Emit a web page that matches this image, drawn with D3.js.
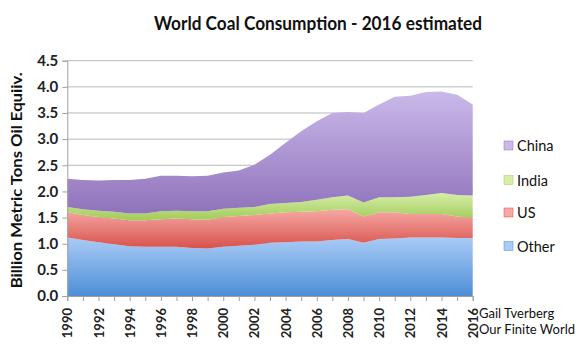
<!DOCTYPE html>
<html><head><meta charset="utf-8">
<script src="https://cdn.jsdelivr.net/npm/d3@7"></script>
<style>body{margin:0;background:#fff}svg{display:block}</style>
</head><body>
<script>
const years = d3.range(1990, 2017);
const other = [1.12,1.07,1.03,0.99,0.95,0.94,0.94,0.94,0.92,0.91,0.94,0.96,0.98,1.02,1.03,1.04,1.04,1.07,1.09,1.02,1.09,1.10,1.12,1.12,1.12,1.11,1.11];
const us    = [0.48,0.48,0.48,0.49,0.50,0.51,0.53,0.54,0.55,0.55,0.57,0.57,0.57,0.56,0.57,0.57,0.58,0.58,0.57,0.50,0.51,0.50,0.45,0.45,0.45,0.41,0.38];
const india = [0.10,0.11,0.12,0.13,0.13,0.13,0.15,0.15,0.15,0.16,0.16,0.16,0.15,0.18,0.18,0.19,0.22,0.24,0.26,0.27,0.29,0.29,0.33,0.36,0.40,0.41,0.43];
const china = [0.54,0.56,0.58,0.61,0.64,0.66,0.68,0.67,0.67,0.68,0.69,0.71,0.81,0.94,1.15,1.35,1.50,1.61,1.60,1.71,1.77,1.92,1.93,1.97,1.94,1.92,1.74];
const seriesNames = ["Other","US","India","China"];
const yTicks = [0,0.5,1,1.5,2,2.5,3,3.5,4,4.5];
const xTickLabels = d3.range(1990, 2017, 2);

const W = 578, H = 348;
const m = {left:67.3, right:578-472.7, top:60.7, bottom:348-296};
const svg = d3.select("body").append("svg").attr("width",W).attr("height",H);

const x = d3.scaleLinear().domain([1990,2016]).range([m.left, W-m.right]);
const y = d3.scaleLinear().domain([0,4.5]).range([H-m.bottom, m.top]);

const table = years.map((yr,i)=>({year:yr, Other:other[i], US:us[i], India:india[i], China:china[i]}));
const stack = d3.stack().keys(seriesNames)(table);

const colors = {
  Other:["#a9cbf6","#4d8ed6"],
  US:["#f6a8a4","#d8524c"],
  India:["#d6eea8","#a2cb59"],
  China:["#cbb9ea","#8f73bb"]
};
const defs = svg.append("defs");
seriesNames.forEach(k=>{
  const g = defs.append("linearGradient").attr("id","g"+k).attr("x1",0).attr("y1",0).attr("x2",0).attr("y2",1);
  g.append("stop").attr("offset","0%").attr("stop-color",colors[k][0]);
  g.append("stop").attr("offset","100%").attr("stop-color",colors[k][1]);
});

const font = "Lato, 'Open Sans', sans-serif";

// gridlines
svg.append("g").selectAll("line").data(yTicks.filter(d=>d>0)).join("line")
  .attr("x1",m.left).attr("x2",W-m.right).attr("y1",d=>y(d)).attr("y2",d=>y(d))
  .attr("stroke","#b8b8b8").attr("stroke-width",1);

const area = d3.area().x(d=>x(d.data.year)).y0(d=>y(d[0])).y1(d=>y(d[1]));
svg.append("g").selectAll("path").data(stack).join("path")
  .attr("d",area).attr("fill",d=>"url(#g"+d.key+")");

// y axis
const yAxis = d3.axisLeft(y).tickValues(yTicks).tickFormat(d3.format(".1f")).tickSize(5).tickPadding(4);
const ga = svg.append("g").attr("transform",`translate(${m.left},0)`).call(yAxis);
ga.select(".domain").attr("stroke","#a0a0a0");
ga.selectAll(".tick line").attr("stroke","#a0a0a0");
ga.selectAll("text").attr("font-family",font).attr("font-size",15).attr("font-weight","bold").attr("fill","#222");

// x axis
const xAxis = d3.axisBottom(x).tickValues(years).tickSize(5).tickFormat(d=> xTickLabels.includes(d)? d : "");
const gx = svg.append("g").attr("transform",`translate(0,${H-m.bottom})`).call(xAxis);
gx.select(".domain").attr("stroke","#a0a0a0");
gx.selectAll(".tick line").attr("stroke","#a0a0a0");
gx.selectAll("text").attr("font-family",font).attr("font-size",13).attr("font-weight","bold").attr("fill","#222")
  .attr("transform","rotate(-90)").attr("text-anchor","end").attr("x",-12).attr("y",0).attr("dy","0.35em");

// y label
svg.append("text").attr("transform",`translate(17,${(m.top+H-m.bottom)/2+2}) rotate(-90)`)
  .attr("text-anchor","middle").attr("dy","0.35em").attr("font-family",font).attr("font-weight","bold").attr("font-size",15).attr("fill","#111")
  .attr("textLength",216).attr("lengthAdjust","spacingAndGlyphs")
  .text("Billion Metric Tons Oil Equiiv.");

// title
svg.append("text").attr("x",318).attr("y",30).attr("text-anchor","middle")
  .attr("font-family",font).attr("font-weight","bold").attr("font-size",19).attr("fill","#111")
  .attr("textLength",328).attr("lengthAdjust","spacingAndGlyphs")
  .text("World Coal Consumption - 2016 estimated");

// legend
const legendOrder = ["China","India","US","Other"];
const legendY = [146,180.5,213,246.5];
const lg = svg.append("g");
legendOrder.forEach((k,i)=>{
  lg.append("rect").attr("x",504).attr("y",legendY[i]-5).attr("width",9).attr("height",9).attr("fill",colors[k][0]).attr("stroke",colors[k][1]).attr("stroke-width",0.5);
  lg.append("text").attr("x",517).attr("y",legendY[i]).attr("dy","0.35em")
    .attr("font-family",font).attr("font-size",14.5).attr("fill","#111").text(k);
});

// credit
svg.append("text").attr("x",479).attr("y",318).attr("font-family",font).attr("font-size",13).attr("fill","#111").text("Gail Tverberg");
svg.append("text").attr("x",479).attr("y",334).attr("font-family",font).attr("font-size",13).attr("fill","#111").text("Our Finite World");
</script>
</body></html>
